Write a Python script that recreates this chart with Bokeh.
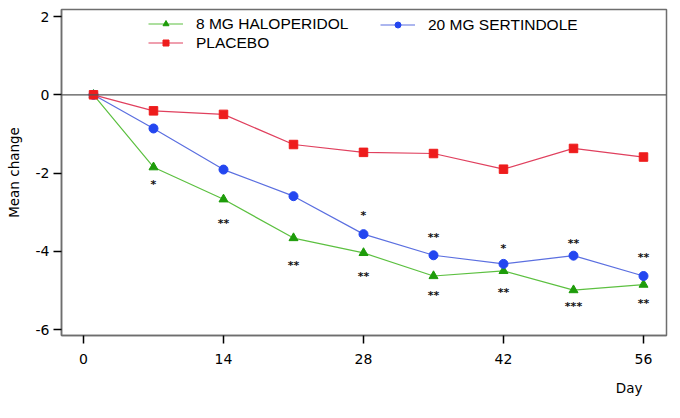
from bokeh.plotting import figure
from bokeh.models import Span, Title, Legend, LegendItem, FixedTicker
from bokeh.core.properties import value
from bokeh.embed import file_html
from bokeh.resources import INLINE

# ---- data ----
days = [1, 7, 14, 21, 28, 35, 42, 49, 56]
haloperidol = [0, -1.85, -2.67, -3.66, -4.04, -4.63, -4.50, -4.99, -4.85]
sertindole = [0, -0.86, -1.91, -2.59, -3.56, -4.10, -4.32, -4.11, -4.63]
placebo = [0, -0.41, -0.50, -1.27, -1.47, -1.50, -1.90, -1.37, -1.59]

halo_sig_days = [7, 14, 21, 28, 35, 42, 49, 56]
halo_sig_marks = ["*", "**", "**", "**", "**", "**", "***", "**"]
halo_sig_y = [-2.25, -3.23, -4.30, -4.58, -5.07, -5.01, -5.35, -5.28]

sert_sig_days = [28, 35, 42, 49, 56]
sert_sig_marks = ["*", "**", "*", "**", "**"]
sert_sig_y = [-3.04, -3.60, -3.87, -3.76, -4.11]

x_ticks = [0, 14, 28, 42, 56]
y_ticks = [-6, -4, -2, 0, 2]
y_tick_labels = ["-6", "-4", "-2", "0", "2"]

# ---- colours ----
HALO_M, HALO_L = "#1e9c0a", "#5cc040"
SERT_M, SERT_L = "#2346f0", "#5b6fe0"
PLAC_M, PLAC_L = "#ee1c1c", "#e0405e"
FRAME = "#6e6e6e"

p = figure(width=672, height=410, output_backend="svg", toolbar_location=None,
           x_range=(-2.2, 58.3), y_range=(-6.15, 2.18),
           min_border_left=61, min_border_right=6, min_border_top=9, min_border_bottom=75)
p.background_fill_color = "white"
p.border_fill_color = "white"
p.outline_line_color = FRAME
p.outline_line_width = 1.5
p.xgrid.visible = False
p.ygrid.visible = False

for ax, ticks in ((p.xaxis, x_ticks), (p.yaxis, y_ticks)):
    ax.ticker = FixedTicker(ticks=ticks)
    ax.minor_tick_line_color = None
    ax.major_tick_in = 0
    ax.major_tick_out = 8
    ax.major_tick_line_color = "black"
    ax.major_tick_line_width = 1.5
    ax.axis_line_color = FRAME
    ax.axis_line_width = 1.5
    ax.major_label_text_font = "DejaVu Sans"
    ax.major_label_text_font_size = "14px"
    ax.major_label_text_color = "black"

p.yaxis.major_label_overrides = {t: s for t, s in zip(y_ticks, y_tick_labels)}
p.xaxis.major_label_standoff = 10
p.yaxis.major_label_standoff = 4
p.yaxis.axis_label = "Mean change"
p.yaxis.axis_label_text_font = "DejaVu Sans"
p.yaxis.axis_label_text_font_size = "13.5px"
p.yaxis.axis_label_text_font_style = "normal"
p.yaxis.axis_label_text_color = "black"
p.yaxis.axis_label_standoff = 11

p.add_layout(Span(location=0, dimension="width", line_color="#555555", line_width=1.2))

# series
hl = p.line(days, haloperidol, line_color=HALO_L, line_width=1.2)
hs = p.scatter(days, haloperidol, marker="triangle", size=9, fill_color=HALO_M, line_color=HALO_M)
sl = p.line(days, sertindole, line_color=SERT_L, line_width=1.2)
ss = p.scatter(days, sertindole, marker="circle", size=9, fill_color=SERT_M, line_color=SERT_M)
pl = p.line(days, placebo, line_color=PLAC_L, line_width=1.2)
ps = p.scatter(days, placebo, marker="square", size=8.5, fill_color=PLAC_M, line_color=PLAC_M)

# significance marks
for xs, ys, marks in ((halo_sig_days, halo_sig_y, halo_sig_marks),
                      (sert_sig_days, sert_sig_y, sert_sig_marks)):
    p.text(xs, ys, text=marks, text_font=value("DejaVu Sans"),
           text_font_size="11px", text_font_style="bold", text_align="center",
           text_baseline="middle", text_color="#111111", y_offset=2)

def make_legend(items, loc):
    return Legend(items=items, location=loc, orientation="vertical",
                  label_text_font="Liberation Sans", label_text_font_size="15.5px",
                  label_text_color="black",
                  background_fill_alpha=0, border_line_alpha=0,
                  padding=0, margin=0, spacing=1,
                  glyph_width=35, glyph_height=15, label_height=15,
                  label_standoff=13)

leg_a = make_legend([LegendItem(label="8 MG HALOPERIDOL", renderers=[hl, hs]),
                     LegendItem(label="PLACEBO", renderers=[pl, ps])], (87, 283.5))
leg_b = make_legend([LegendItem(label="20 MG SERTINDOLE", renderers=[sl, ss])], (319, 301.5))
p.add_layout(leg_a)
p.add_layout(leg_b)

p.add_layout(Title(text="Day", align="right", offset=24, standoff=23,
                   text_font="DejaVu Sans", text_font_size="13.5px",
                   text_font_style="normal", text_color="black"), "below")

open("out.html", "w").write(file_html(p, INLINE))
